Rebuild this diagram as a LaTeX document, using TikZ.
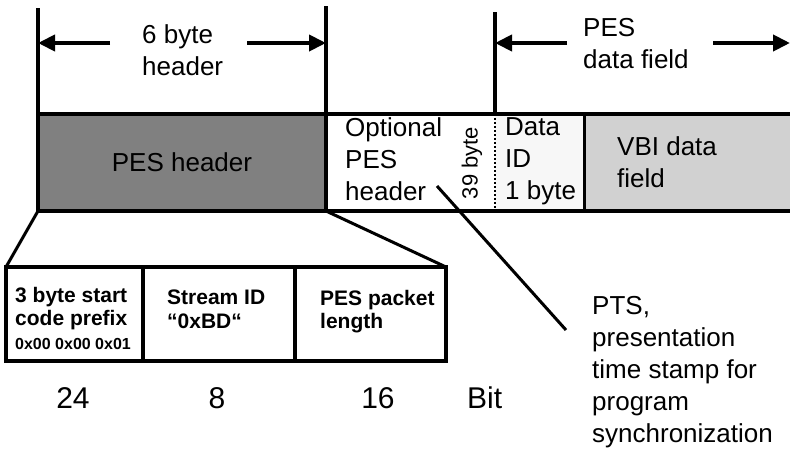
\documentclass[tikz,border=0pt]{standalone}
\usepackage{fontspec}
\setmainfont{Liberation Sans}
\usetikzlibrary{arrows.meta,positioning}

\definecolor{hdrgray}{HTML}{808080}
\definecolor{idgray}{HTML}{F7F7F7}
\definecolor{vbigray}{HTML}{D1D1D1}

\newcommand{\bigtxt}{\fontsize{26}{32}\selectfont}
\newcommand{\boldtxt}{\fontsize{21}{23.5}\selectfont\bfseries}
\newcommand{\hextxt}{\fontsize{16}{24}\selectfont\bfseries}
\newcommand{\bittxt}{\fontsize{30}{36}\selectfont}

\begin{document}
\begin{tikzpicture}[x=1pt, y=-1pt,
    cell/.style={minimum height=97pt, minimum width=#1, inner sep=0pt, outer sep=0pt},
    subcell/.style={draw, line width=3.5pt, minimum height=94pt, minimum width=#1,
                    inner sep=0pt, outer sep=0pt},
    txt/.style={font=\bigtxt, align=left, inner sep=0pt, anchor=north west},
    num/.style={font=\bittxt, inner sep=0pt, anchor=base},
    rowline/.style={line width=3.5pt},
    dimline/.style={line width=4pt},
    dimarr/.style={-{Triangle[length=17pt,width=16pt]}, line width=4pt},
    lead/.style={line width=3pt}
  ]
    \useasboundingbox (0,0) rectangle (790,450);
    \clip (0,0) rectangle (790,450);

    % PES packet row
    \node[cell=288pt, fill=hdrgray, anchor=north west] (hdr) at (38,114) {\bigtxt PES header};
    \node[cell=169pt, fill=white, right=0pt of hdr] (opt) {};
    \node[cell=89pt, fill=idgray, right=0pt of opt] (did) {};
    \node[cell=216pt, fill=vbigray, right=0pt of did] (vbi) {};

    \draw[rowline] (hdr.north west) rectangle (hdr.south east);
    \draw[rowline] (hdr.north east) -- (vbi.north east);
    \draw[rowline] (hdr.south east) -- (vbi.south east);
    \draw[line width=1.5pt, dash pattern=on 2pt off 2pt] (opt.north east) -- (opt.south east);
    \draw[line width=3pt] (did.north east) -- (did.south east);

    \node[txt] (optlbl) at (345,117) {Optional\\PES\\header};
    \node[font=\fontsize{22}{26}\selectfont, rotate=90, inner sep=0pt] (optlen) at (472,163) {39 byte};
    \node[txt] (didlbl) at (505,117) {Data\\ID\\1 byte};
    \node[txt] (vbilbl) at (617,136) {VBI data\\field};

    % Size marks on top
    \coordinate (hdrtopL) at (38,8);
    \coordinate (hdrtopR) at (326,6);
    \coordinate (datatop) at (495,12);
    \draw[dimline] (hdrtopL) -- (hdr.north west);
    \draw[dimline] (hdrtopR) -- (hdr.north east);
    \draw[dimline] (datatop) -- (opt.north east);

    \node[txt] (hdrlbl) at (142,24) {6 byte\\header};
    \node[txt] (datalbl) at (583,18) {PES\\data field};
    \draw[dimarr] (110,43) -- (110,43 -| hdr.west);
    \draw[dimarr] (247,43) -- (247,43 -| hdr.east);
    \draw[dimarr] (567,43) -- (567,43 -| opt.east);
    \draw[dimarr] (713,43) -- (790,43);

    % Header fields
    \node[subcell=137pt, anchor=north west] (prefix) at (6,267) {};
    \node[subcell=152pt, right=0pt of prefix] (sid) {};
    \node[subcell=151pt, right=0pt of sid] (plen) {};
    \draw[lead] (hdr.south west) -- (prefix.north west);
    \draw[lead] (hdr.south east) -- (plen.north east);

    \node[txt, font=\boldtxt] (prefixlbl) at (15,287) {3 byte start\\code prefix\\{\hextxt 0x00 0x00 0x01}};
    \node[txt, font=\boldtxt] (sidlbl) at (167,290) {Stream ID\\“0xBD“};
    \node[txt, font=\boldtxt] (plenlbl) at (320,290) {PES packet\\length};

    \node[num] (bits24) at (73,408) {24};
    \node[num] (bits8) at (217,408) {8};
    \node[num] (bits16) at (378,408) {16};
    \node[num, anchor=base west] (bitunit) at (467,408) {Bit};

    % PTS note
    \node[txt] (ptslbl) at (592,296) {PTS,\\presentation\\time stamp for\\program\\synchronization};
    \coordinate (ptsfrom) at (437,186);
    \coordinate (ptsto) at (566,330);
    \draw[lead] (ptsfrom) -- (ptsto);
\end{tikzpicture}
\end{document}
